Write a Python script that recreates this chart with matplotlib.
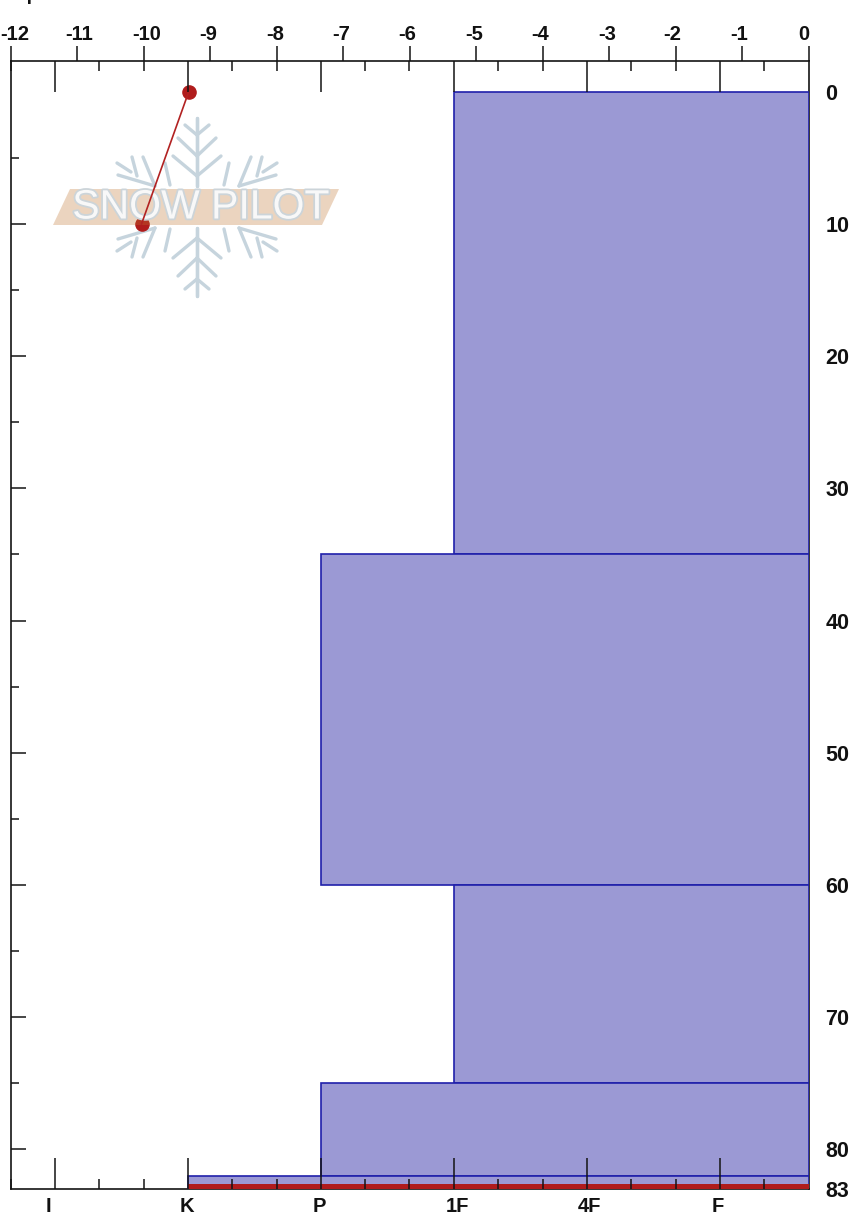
import matplotlib
matplotlib.use("Agg")
import matplotlib.pyplot as plt
from matplotlib.lines import Line2D
from matplotlib.patches import Polygon
from matplotlib.transforms import Affine2D, ScaledTranslation
import matplotlib.patheffects as pe

plt.rcParams['font.family'] = ['Liberation Sans', 'DejaVu Sans']

# --- data ---
temp_depth = [0, 10]
temp_value = [-9.32, -10.03]
temp_ticks = list(range(-12, 1))
hardness_labels = ['I', 'K', 'P', '1F', '4F', 'F']
layer_top = [0, 35, 60, 75, 82]
layer_bottom = [35, 60, 75, 82, 83]
layer_hardness = [3, 2, 3, 2, 1]
crust_top = [82.65]
crust_bottom = [83]
crust_hardness = [1]
depth_ticks = [0, 10, 20, 30, 40, 50, 60, 70, 80, 83]
depth_minor = [5, 15, 25, 35, 45, 55, 65, 75]

W, H = 855, 1215
fig = plt.figure(figsize=(W / 100, H / 100), dpi=100, facecolor='white')
L, R, T, B = 10.5, 808.5, 61, 1189
ax = fig.add_axes([L / W, 1 - B / H, (R - L) / W, (B - T) / H])
ax.set_xlim(-12, 0)
ax.set_ylim(83, -2.33)
INK = '#141414'
for s in ax.spines.values():
    s.set_linewidth(1.2)
    s.set_color(INK)

def shift(label, dx, dy=0):
    label.set_transform(label.get_transform() + ScaledTranslation(dx / 100, dy / 100, fig.dpi_scale_trans))

# depth axis (both sides, labels right)
ax.set_yticks(depth_ticks)
ax.set_yticks(depth_minor, minor=True)
ax.set_yticklabels([str(d) for d in depth_ticks], fontsize=15.5, fontweight='bold', color='#111111')
ax.tick_params(axis='y', which='both', direction='in', left=True, right=True,
               labelleft=False, labelright=True, width=1.1, color=INK, pad=12)
ax.tick_params(axis='y', which='major', length=10.8)
ax.tick_params(axis='y', which='minor', length=5.8)
for t, d in zip(ax.yaxis.get_major_ticks(), depth_ticks):
    if d in (0, 83):
        t.tick1line.set_visible(False)
        t.tick2line.set_visible(False)

# --- watermark (pixel coordinates, decoration only) ---
px = Affine2D().scale(1, -1).translate(0, H)
FLAKE = '#c6d4dd'
CX, CY = 197, 207
arm_v = [[(197, 186), (197, 118)], [(197, 176), (173, 156)], [(197, 156), (178, 138)], [(197, 135), (185, 125)]]
arm_d = [[(155, 186), (118, 175)], [(143, 157), (155, 186)], [(132, 157), (137, 176)],
         [(117, 163), (131, 172)], [(165, 163), (170, 185)]]
def add_seg(seg, lw):
    xs, ys = zip(*seg)
    ax.add_line(Line2D(xs, ys, transform=px, color=FLAKE, lw=lw, clip_on=False, zorder=1, solid_capstyle='round'))
for seg in arm_v + arm_d:
    for mx in (1, -1):
        for my in (1, -1):
            add_seg([(CX + mx * (x - CX), CY + my * (y - CY)) for x, y in seg], 2.4)

# temperature profile
ax.plot(temp_value, temp_depth, color='none', marker='o', ms=9.5,
        mfc='#b01c1c', mec='#b01c1c', zorder=3, clip_on=False)
ax.plot(temp_value, temp_depth, color='#b22222', lw=1.2, zorder=6, clip_on=False)

ax.add_patch(Polygon([(53, 225), (70, 189), (339, 189), (322, 225)], closed=True, transform=px,
                     facecolor='#c0732d', edgecolor='none', alpha=0.3, zorder=4))
ax.text(201, 207.5, 'SNOW PILOT', transform=px, ha='center', va='center', fontsize=29.5,
        color='#f8f8f8', zorder=5, path_effects=[pe.withStroke(linewidth=2.6, foreground='#ccd4d9')])

# hardness axis and layers
ax_h = ax.twiny()
ax_h.set_xlim(-1 / 3, 5 + 2 / 3)
for s in ax_h.spines.values():
    s.set_visible(False)
h_right = ax_h.get_xlim()[1]
for top, bot, hv in zip(layer_top, layer_bottom, layer_hardness):
    ax_h.barh(top, h_right - hv, left=hv, height=bot - top, align='edge',
              facecolor='#9b99d4', edgecolor='#2020aa', linewidth=1.2, zorder=1)
for top, bot, hv in zip(crust_top, crust_bottom, crust_hardness):
    ax_h.barh(top, h_right - hv, left=hv, height=bot - top, align='edge',
              facecolor='#b01c1c', edgecolor='none', zorder=1.5)
ax.set_ylim(83, -2.33)

ax_h.xaxis.set_ticks_position('both')
ax_h.set_xticks(range(len(hardness_labels)))
ax_h.set_xticks([i / 3 - 1 / 3 for i in range(18) if i % 3 != 1], minor=True)
ax_h.set_xticklabels(hardness_labels, fontsize=14.5, fontweight='bold', color='#111111')
ax_h.tick_params(axis='x', which='major', direction='in', length=22.5, width=1.1, color=INK,
                 labelbottom=True, labeltop=False, pad=6)
ax_h.tick_params(axis='x', which='minor', direction='in', length=7.2, width=1.1, color=INK)
h_off = [-6.5, -0.8, -1.5, 3.5, 2.5, -2]
for lab, d in zip(ax_h.get_xticklabels(), h_off):
    shift(lab, d)

# temperature axis (top) - after twiny, which moves ticks to the bottom
ax.xaxis.set_ticks_position('top')
ax.set_xticks(temp_ticks)
ax.set_xticklabels([str(t) for t in temp_ticks], fontsize=14.5, fontweight='bold', color='#111111')
ax.tick_params(axis='x', which='major', direction='out', length=10.8, width=1.1, color=INK, pad=1.5,
               labeltop=True, labelbottom=False, top=True, bottom=False)
t_off = [4, 2.5, 3, -2, -1, -2, -2, -2, -2, -2, -3, -3, -5]
for lab, d in zip(ax.get_xticklabels(), t_off):
    shift(lab, d)

# title, clipped by the top edge in the reference
fig.text(-11 / W, 1.0, 'Temp', fontsize=14, fontweight='bold', color='#111111', ha='left', va='baseline')

fig.savefig('out.png', dpi=100, facecolor='white')
